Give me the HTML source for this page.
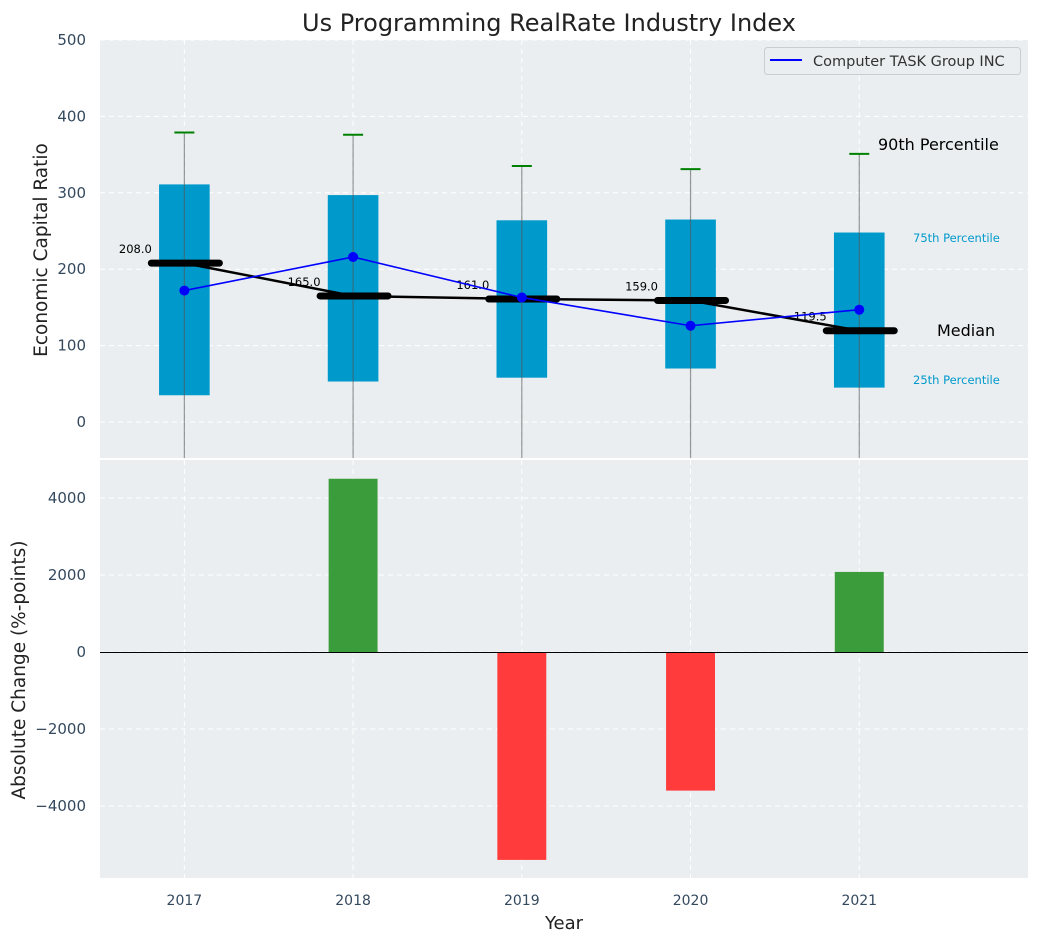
<!DOCTYPE html>
<html><head><meta charset="utf-8"><style>
body{margin:0;background:#fff;}
text{font-family:"DejaVu Sans","Liberation Sans",sans-serif;}
</style></head><body>
<svg id="c" width="1039" height="942" xmlns="http://www.w3.org/2000/svg"></svg>
<script>
const years=[2017,2018,2019,2020,2021];
const q25=[35,53,58,70,45];
const q75=[311,297,264,265,248];
const p90=[379,376,335,331,351];
const medians=[208,165,161,159,119.5];
const companyVals=[172,216,163,126,147];
const changes=[0,4500,-5400,-3600,2080];
const topTicks=[0,100,200,300,400,500];
const botTicks=[-4000,-2000,0,2000,4000];

const NS='http://www.w3.org/2000/svg';
const svg=document.getElementById('c');
function el(t,a,p){const e=document.createElementNS(NS,t);for(const k in a)e.setAttribute(k,a[k]);(p||svg).appendChild(e);return e;}
const L=100,R=1028,T1=40,B1=458,T2=460,B2=878;
const x=v=>L+(v-2016.5)/(2022-2016.5)*(R-L);
const y1=v=>422+(0-v)*(422-40)/500;
const y2=v=>652-v*(652-498)/4000;

el('rect',{x:L,y:T1,width:R-L,height:B1-T1,fill:'#eaeef0',});
el('rect',{x:L,y:T2,width:R-L,height:B2-T2,fill:'#eaeef0',});
years.forEach(v=>{
  let g=el('line',{x1:x(v),x2:x(v),y1:T1,y2:B1,stroke:'#fff','stroke-dasharray':'5,4','stroke-width':1});
  
  g=el('line',{x1:x(v),x2:x(v),y1:T2,y2:B2,stroke:'#fff','stroke-dasharray':'5,4','stroke-width':1});
  
  const t=el('text',{x:x(v),y:905,'text-anchor':'middle','font-size':14,fill:'#34495e'});t.textContent=v;
  
});
topTicks.forEach(v=>{
  const g=el('line',{x1:L,x2:R,y1:y1(v),y2:y1(v),stroke:'#fff','stroke-dasharray':'5,4'});
  
  const t=el('text',{x:86,y:y1(v)+5,'text-anchor':'end','font-size':15,fill:'#34495e'});t.textContent=v;
  
});
botTicks.forEach(v=>{
  const g=el('line',{x1:L,x2:R,y1:y2(v),y2:y2(v),stroke:'#fff','stroke-dasharray':'5,4'});
  
  const t=el('text',{x:86,y:y2(v)+5,'text-anchor':'end','font-size':15,fill:'#34495e'});t.textContent=String(v).replace('-','\u2212');
  
});
const bw=x(2016.5+0.3)-x(2016.5);
years.forEach((v,i)=>{
  const b=el('rect',{x:x(v)-bw/2,y:y1(q75[i]),width:bw,height:y1(q25[i])-y1(q75[i]),fill:'#0099cc'});
  
  const w=el('line',{x1:x(v),x2:x(v),y1:y1(p90[i]),y2:B1,stroke:'#555','stroke-opacity':0.6,'stroke-width':1.2});
  
  const c=el('line',{x1:x(v)-10,x2:x(v)+10,y1:y1(p90[i]),y2:y1(p90[i]),stroke:'green','stroke-width':2});
  
});
const mpts=years.map((v,i)=>x(v)+','+y1(medians[i])).join(' ');
const ml=el('polyline',{points:mpts,fill:'none',stroke:'#000','stroke-width':2.5});

years.forEach((v,i)=>{
  const m=el('line',{x1:x(v)-33,x2:x(v)+35,y1:y1(medians[i]),y2:y1(medians[i]),stroke:'#000','stroke-width':7,'stroke-linecap':'round'});
  
  const t=el('text',{x:x(v)-49,y:y1(medians[i])-10,'text-anchor':'middle','font-size':11.5,fill:'#000'});t.textContent=medians[i].toFixed(1);
  
});
const cp=years.map((v,i)=>x(v)+','+y1(companyVals[i])).join(' ');
const cl=el('polyline',{points:cp,fill:'none',stroke:'#0000ff','stroke-width':1.6});

years.forEach((v,i)=>{
  const d=el('circle',{cx:x(v),cy:y1(companyVals[i]),r:5,fill:'#0000ff'});
  
});
[[878,150,'90th Percentile',16,'#000','p90-label'],[913,242,'75th Percentile',11.5,'#0099cc','p75-label'],[937,336,'Median',16,'#000','median-side-label'],[913,384,'25th Percentile',11.5,'#0099cc','p25-label']].forEach(a=>{
  const t=el('text',{x:a[0],y:a[1],'font-size':a[3],fill:a[4]});t.textContent=a[2];
  
});
const lg=el('g',{});
el('rect',{x:764.5,y:47.5,width:256,height:27,rx:3,fill:'#eaeef0',stroke:'#ccc'},lg);
el('line',{x1:770,x2:802,y1:60,y2:60,stroke:'#0000ff','stroke-width':2},lg);
const lt=el('text',{x:813,y:66,'font-size':14.5,fill:'#333'},lg);lt.textContent='Computer TASK Group INC';
const bw2=x(2016.5+0.29)-x(2016.5);
years.forEach((v,i)=>{
  if(changes[i]===0)return;
  const top=Math.min(y2(0),y2(changes[i])),h=Math.abs(y2(changes[i])-y2(0));
  const b=el('rect',{x:x(v)-bw2/2,y:top,width:bw2,height:h,fill:changes[i]>0?'#3a9c3a':'#ff3b3b'});
  
});
const z=el('line',{x1:L,x2:R,y1:Math.round(y2(0))+0.5,y2:Math.round(y2(0))+0.5,stroke:'#000','stroke-width':1});

let t=el('text',{x:549,y:31,'text-anchor':'middle','font-size':24,fill:'#222'});t.textContent='Us Programming RealRate Industry Index';

t=el('text',{x:564,y:929,'text-anchor':'middle','font-size':18,fill:'#222'});t.textContent='Year';

t=el('text',{x:0,y:0,'text-anchor':'middle','font-size':18.5,fill:'#222',transform:'translate(47,250) rotate(-90)'});t.textContent='Economic Capital Ratio';

t=el('text',{x:0,y:0,'text-anchor':'middle','font-size':18.5,fill:'#222',transform:'translate(25,670) rotate(-90)'});t.textContent='Absolute Change (%-points)';

</script>
</body></html>
